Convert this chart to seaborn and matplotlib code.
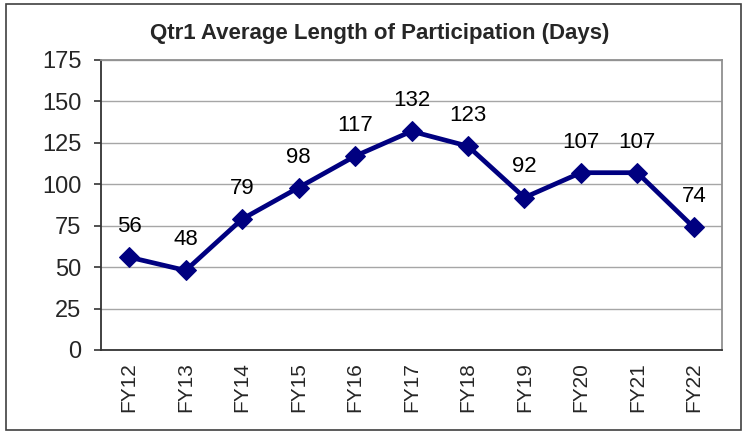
import matplotlib
matplotlib.use("Agg")
import matplotlib.pyplot as plt
import seaborn as sns
import pandas as pd
from matplotlib.patches import Rectangle

categories = ["FY12", "FY13", "FY14", "FY15", "FY16", "FY17", "FY18", "FY19", "FY20", "FY21", "FY22"]
values = [56, 48, 79, 98, 117, 132, 123, 92, 107, 107, 74]
yticks = [0, 25, 50, 75, 100, 125, 150, 175]
title = "Qtr1 Average Length of Participation (Days)"

sns.set_style("white")
plt.rcParams['font.family'] = ['Liberation Sans', 'DejaVu Sans']

df = pd.DataFrame({"pos": range(len(categories)), "value": values})

fig = plt.figure(figsize=(7.45, 4.32), dpi=100)
ax = fig.add_axes([101/745, 1-350/432, (722-101)/745, (350-60)/432])

sns.lineplot(data=df, x="pos", y="value", ax=ax, color="#000080", linewidth=3.4,
             marker="D", markersize=10.5, markeredgecolor="#000080")

ax.set_xlim(-0.5, len(categories) - 0.5)
ax.set_ylim(0, 175)
ax.set_yticks(yticks)
ax.set_yticklabels([str(t) for t in yticks], fontsize=17)
ax.grid(axis="y", color="#a6a6a6", linewidth=1)
ax.set_axisbelow(True)

ax.set_xticks(range(len(categories)))
ax.set_xticklabels(categories, rotation=90, fontsize=15)
ax.tick_params(axis="x", length=0, pad=9)
ax.set_xticks([i - 0.5 for i in range(len(categories) + 1)], minor=True)
ax.tick_params(axis="x", which="minor", length=5, width=1.2, color="#333333", direction="out")
ax.tick_params(axis="y", length=5, width=1.2, color="#333333", direction="out", left=True, pad=9)
ax.set_xlabel("")
ax.set_ylabel("")

for s in ["left", "bottom"]:
    ax.spines[s].set_color("#333333")
    ax.spines[s].set_linewidth(1.3)
for s in ["top", "right"]:
    ax.spines[s].set_visible(True)
    ax.spines[s].set_color("#909090")
    ax.spines[s].set_linewidth(1.3)

for i, v in enumerate(values):
    ax.annotate(str(v), (i, v), xytext=(0, 22), textcoords="offset points",
                ha="center", va="center", fontsize=16, color="black")

fig.text(380/745, 1-34/432, title, ha="center", va="center", fontsize=16,
         fontweight="bold", family=["Liberation Sans Narrow", "Liberation Sans", "DejaVu Sans"])

fig.patches.append(Rectangle((6/745, 1-430/432), (741-6)/745, (430-4)/432,
                             transform=fig.transFigure, fill=False,
                             edgecolor="#404040", linewidth=1.2))

fig.savefig("out.png", dpi=100)
